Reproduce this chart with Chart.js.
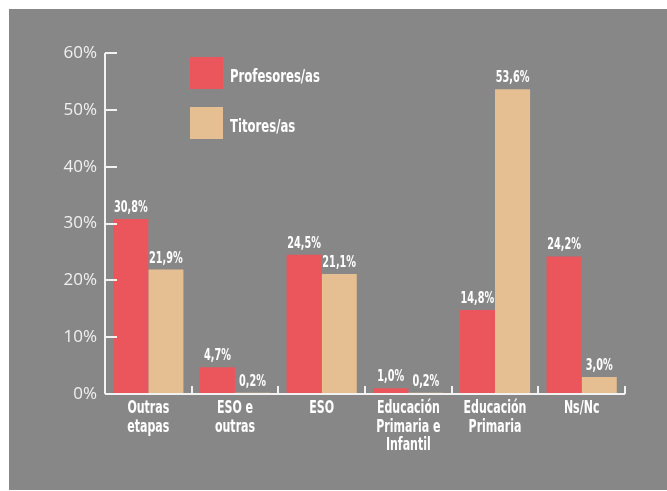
<!DOCTYPE html>
<html>
<head>
<meta charset="utf-8">
<script src="https://cdn.jsdelivr.net/npm/chart.js@4.4.0/dist/chart.umd.min.js"></script>
<style>
  html, body { margin: 0; padding: 0; background: #ffffff; }
  #wrap { position: absolute; left: 0; top: 0; width: 667px; height: 491px; }
</style>
</head>
<body>
<div id="wrap"><canvas id="c" width="667" height="491"></canvas></div>
<script>
const categories = [["Outras", "etapas"], ["ESO e", "outras"], ["ESO"], ["Educación", "Primaria e", "Infantil"], ["Educación", "Primaria"], ["Ns/Nc"]];
const seriesNames = ["Profesores/as", "Titores/as"];
const profesores = [30.8, 4.7, 24.5, 1.0, 14.8, 24.2];
const titores = [21.9, 0.2, 21.1, 0.2, 53.6, 3.0];
const yTicks = [0, 10, 20, 30, 40, 50, 60];

const RED = '#ea565b';
const TAN = '#e5be91';
const GRAY = '#878787';
const NARROW = "'DejaVu Sans Condensed', 'DejaVu Sans', sans-serif";
const SQUEEZE = 0.72;

const fmt = v => v.toFixed(1).replace('.', ',') + '%';

function narrowText(ctx, text, x, y, align, size) {
  ctx.save();
  ctx.font = "bold " + size + "px " + NARROW;
  ctx.textAlign = align;
  ctx.textBaseline = 'alphabetic';
  ctx.translate(x, y);
  ctx.scale(SQUEEZE, 1);
  ctx.fillText(text, 0, 0);
  ctx.restore();
}

const decor = {
  id: 'decor',
  beforeDraw(chart) {
    const ctx = chart.ctx;
    ctx.save();
    ctx.fillStyle = GRAY;
    ctx.fillRect(9, 9, 658, 481);
    ctx.restore();
  },
  afterDraw(chart) {
    const ctx = chart.ctx;
    const xs = chart.scales.x, ys = chart.scales.y;
    const ca = chart.chartArea;
    ctx.save();
    ctx.strokeStyle = '#f2f2f2';
    ctx.lineWidth = 2;
    // y axis line
    ctx.beginPath();
    ctx.moveTo(ca.left, ys.getPixelForValue(60));
    ctx.lineTo(ca.left, ca.bottom);
    ctx.stroke();
    // y ticks inward
    yTicks.forEach(v => {
      const y = Math.round(ys.getPixelForValue(v));
      ctx.beginPath();
      ctx.moveTo(ca.left, y);
      ctx.lineTo(ca.left + 12, y);
      ctx.stroke();
    });
    // x axis line
    ctx.beginPath();
    ctx.moveTo(ca.left, ca.bottom);
    ctx.lineTo(ca.right, ca.bottom);
    ctx.stroke();
    // category separators
    const n = categories.length;
    const w = (ca.right - ca.left) / n;
    for (let i = 1; i <= n; i++) {
      const x = Math.round(ca.left + w * i);
      ctx.beginPath();
      ctx.moveTo(x, ca.bottom);
      ctx.lineTo(x, ca.bottom - 8);
      ctx.stroke();
    }
    ctx.fillStyle = '#ffffff';
    // category labels
    categories.forEach((lines, i) => {
      const cx = xs.getPixelForValue(i);
      lines.forEach((t, k) => {
        narrowText(ctx, t, cx, ca.bottom + 19 + k * 18.5, 'center', 17);
      });
    });
    // data labels
    chart.data.datasets.forEach((ds, di) => {
      const meta = chart.getDatasetMeta(di);
      meta.data.forEach((bar, i) => {
        narrowText(ctx, fmt(ds.data[i]), bar.x, bar.y - 7, 'center', 15);
      });
    });
    // legend
    const items = [[seriesNames[0], RED, 57], [seriesNames[1], TAN, 107]];
    items.forEach(([label, color, top]) => {
      ctx.fillStyle = color;
      ctx.fillRect(190, top, 33, 32);
      ctx.fillStyle = '#ffffff';
      narrowText(ctx, label, 230, top + 25, 'left', 18);
    });
    ctx.restore();
  }
};

new Chart(document.getElementById('c'), {
  type: 'bar',
  data: {
    labels: categories,
    datasets: [
      { label: seriesNames[0], data: profesores, backgroundColor: RED, borderWidth: 0 },
      { label: seriesNames[1], data: titores, backgroundColor: TAN, borderWidth: 0 }
    ]
  },
  options: {
    responsive: false,
    animation: false,
    devicePixelRatio: 1,
    layout: { padding: { left: 0, right: 42, top: 53, bottom: 0 } },
    plugins: { legend: { display: false }, tooltip: { enabled: false } },
    datasets: { bar: { categoryPercentage: 0.81, barPercentage: 1.0 } },
    scales: {
      x: {
        grid: { display: false, drawTicks: false },
        border: { display: false },
        ticks: { display: false },
        afterFit(scale) { scale.height = 97; }
      },
      y: {
        min: 0, max: 60,
        grid: { display: false, drawTicks: false },
        border: { display: false },
        ticks: {
          stepSize: 10,
          color: '#f0f0f0',
          font: { family: "'Open Sans', sans-serif", size: 17, weight: 'normal' },
          padding: 8,
          callback: v => v + '%'
        },
        afterFit(scale) { scale.width = 105; }
      }
    }
  },
  plugins: [decor]
});
</script>
</body>
</html>
